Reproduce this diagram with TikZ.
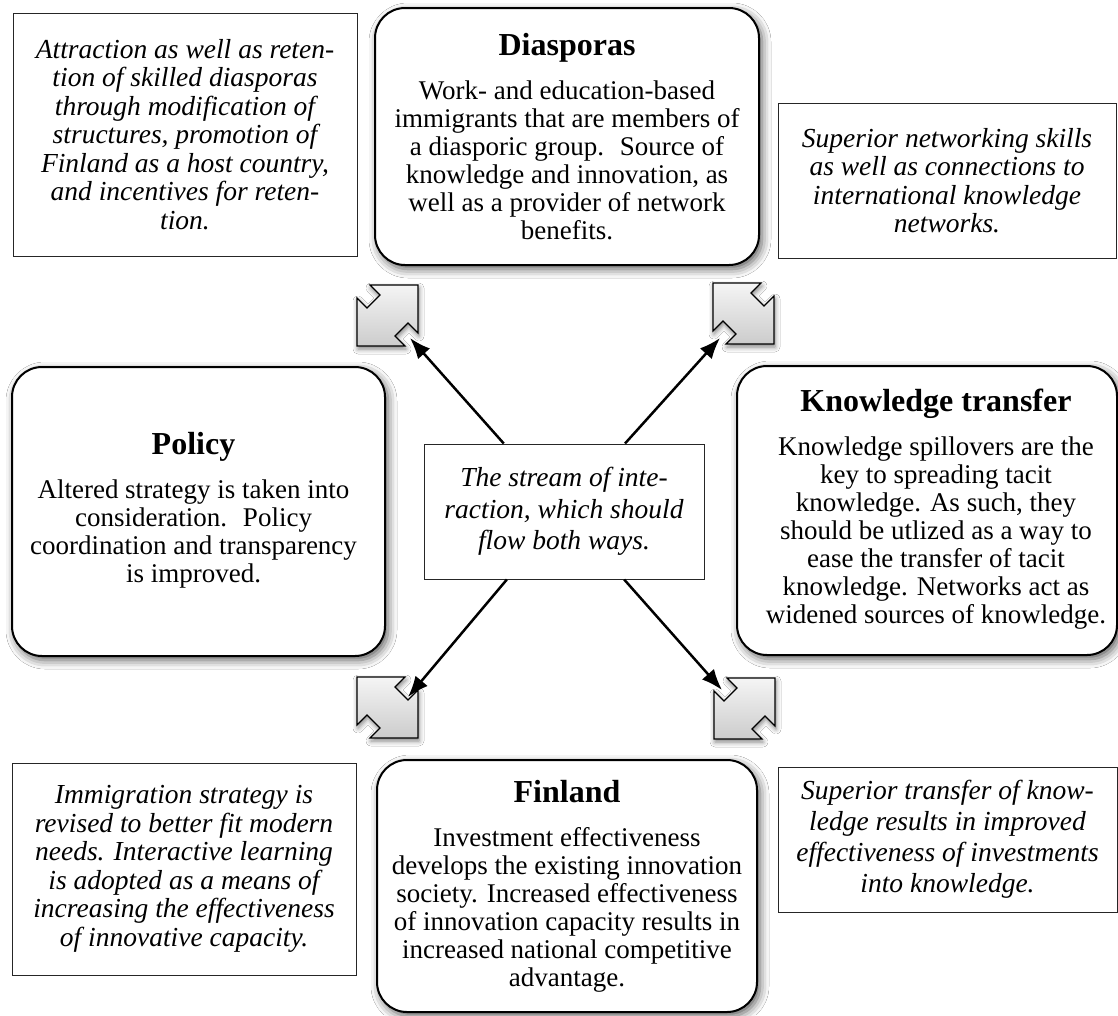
\documentclass[tikz,border=0pt]{standalone}
\usepackage{fontspec}
\setmainfont{Liberation Serif}
\usetikzlibrary{shadows.blur,arrows.meta}
\newcommand\ttlf{\fontsize{32}{32}\selectfont\bfseries}
\tikzset{
  rbox/.style={draw=black, line width=2pt, rounded corners=30pt, fill=white, align=center,
    blur shadow={shadow xshift=3pt, shadow yshift=-4pt, shadow blur radius=9pt, shadow opacity=65},
    inner sep=0pt, font=\fontsize{27}{28}\selectfont},
  ibox/.style={draw=black!85, line width=1pt, fill=white, align=center, inner sep=0pt,
    font=\fontsize{27.5}{28.5}\selectfont\itshape},
  flow/.style={line width=2.5pt, -{Latex[length=21pt,width=16pt]}},
  iconstyle/.style={draw=black, line width=1.2pt, top color=black!4, bottom color=black!20,
    blur shadow={shadow xshift=1pt, shadow yshift=-3pt, shadow blur radius=5pt, shadow opacity=50}},
  pics/notchA/.style={code={
    \path[iconstyle] (13,0) -- (61,0) -- (61,48) -- (51,38) -- (38,51) -- (48,61) -- (0,61)
      -- (0,13) -- (10,23) -- (23,10) -- cycle;}},
  pics/notchB/.style={code={
    \path[iconstyle] (48,0) -- (0,0) -- (0,48) -- (10,38) -- (23,51) -- (13,61) -- (61,61)
      -- (61,13) -- (51,23) -- (38,10) -- cycle;}},
}
\begin{document}
\begin{tikzpicture}[x=1pt,y=-1pt]
\useasboundingbox[fill=white] (0,0) rectangle (1118,1015);

% italic boxes
\node[ibox, minimum width=344pt, minimum height=243pt] (tl) at (185,134.5)
  {Attraction as well as reten-\\tion of skilled diasporas\\through modification of\\structures, promotion of\\Finland as a host country,\\and incentives for reten-\\tion.};
\node[ibox, minimum width=338pt, minimum height=155pt] (tr) at (947,180.5)
  {Superior networking skills\\as well as connections to\\international knowledge\\networks.};
\node[ibox, minimum width=344pt, minimum height=212pt] (bl) at (184,869)
  {Immigration strategy is\\revised to better fit modern\\needs. Interactive learning\\is adopted as a means of\\increasing the effectiveness\\of innovative capacity.};
\node[ibox, minimum width=339pt, minimum height=145pt, font=\fontsize{27.5}{31}\selectfont\itshape] (br) at (947.5,839.5)
  {Superior transfer of know-\\ledge results in improved\\effectiveness of investments\\into knowledge.};

% rounded boxes
\node[rbox, minimum width=384pt, minimum height=257pt] (dia) at (567,136.5)
  {{\ttlf Diasporas}\\[16pt]Work- and education-based\\immigrants that are members of\\a diasporic group.~ Source of\\knowledge and innovation, as\\well as a provider of network\\benefits.};
\node[rbox, minimum width=373pt, minimum height=289pt] (pol) at (198.5,511.5)
  {\begin{tabular}{@{}c@{}}{\ttlf Policy}\\[16pt]Altered strategy is taken into\\consideration.~ Policy\\coordination and transparency\\is improved.\end{tabular}\kern10pt};
\node[rbox, minimum width=380pt, minimum height=289pt] (kno) at (927,510.5)
  {\kern18pt\begin{tabular}{@{}c@{}}{\ttlf Knowledge transfer}\\[16pt]Knowledge spillovers are the\\key to spreading tacit\\knowledge. As such, they\\should be utlized as a way to\\ease the transfer of tacit\\knowledge. Networks act as\\widened sources of knowledge.\end{tabular}};
\node[rbox, minimum width=380pt, minimum height=252pt] (fin) at (567,886)
  {{\ttlf Finland}\\[16pt]Investment effectiveness\\develops the existing innovation\\society. Increased effectiveness\\of innovation capacity results in\\increased national competitive\\advantage.};

% centre box
\node[ibox, minimum width=280pt, minimum height=135pt, font=\fontsize{27.5}{31.5}\selectfont\itshape] (ctr) at (564,511.5)
  {The stream of inte-\\raction, which should\\flow both ways.};

% icons
\pic at (357,285) {notchA};
\pic at (713,283) {notchB};
\pic at (357,677) {notchB};
\pic at (714,678) {notchA};

\coordinate (t1) at (410,338);
\coordinate (t2) at (720,338);
\coordinate (t3) at (408,697);
\coordinate (t4) at (722,690);
\draw[flow] (ctr) -- (t1);
\draw[flow] (ctr) -- (t2);
\draw[flow] (ctr) -- (t3);
\draw[flow] (ctr) -- (t4);
\end{tikzpicture}
\end{document}
